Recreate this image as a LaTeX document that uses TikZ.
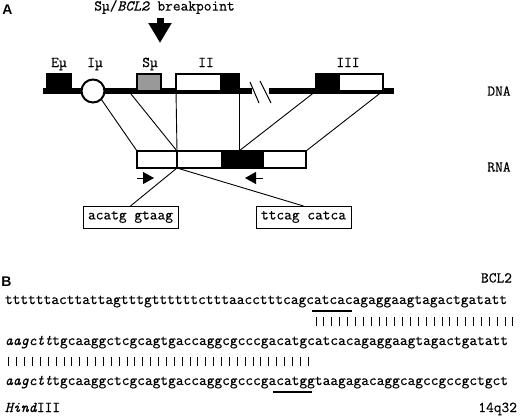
\documentclass[tikz,border=0pt]{standalone}
\usepackage{fontspec}
\setmonofont{Latin Modern Mono}[FakeBold=0.5]
\newfontfamily\panelfont{Liberation Sans}
\usetikzlibrary{positioning,arrows.meta}

\def\cw{7.875}

\begin{document}
\begin{tikzpicture}[
    x=1pt, y=-1pt,
    every node/.style={font=\ttfamily\fontsize{15}{17}\selectfont, inner sep=0pt, outer sep=0pt},
    panel/.style={font=\panelfont\bfseries\fontsize{14}{16}\selectfont},
    exon/.style={
        draw,
        line width=1.8pt,
        minimum height=17pt
    },
    rna/.style={
        draw,
        line width=1.8pt,
        minimum height=17pt
    },
    seqbox/.style={
        draw,
        line width=1pt,
        minimum width=95pt,
        minimum height=22pt
    },
    link/.style={line width=0.9pt},
    primer/.style={line width=1pt, -{Triangle[length=11pt,width=12pt]}},
    seq/.style={anchor=base west},
    tick/.style={line width=1pt}
]
    \useasboundingbox (0,0) rectangle (520,418);

    % Panel A
    \node[panel] (pa) at (7.5,10) {A};

    % Breakpoint label and arrow
    \node (bptext) at (164.5,7) {Sµ/\textit{BCL2} breakpoint};
    \coordinate (bptip) at (160,43);
    \draw[line width=7pt, -{Triangle[length=20pt,width=22pt]}]
        ([yshift=-4pt]bptext.south -| bptip) -- (bptip);

    % DNA line with break
    \draw[line width=5.5pt] (43,91) coordinate (dnaL) -- (252,91) coordinate (brkL);
    \draw[line width=5.5pt] (269,91) coordinate (brkR) -- (394,91) coordinate (dnaR);
    \draw[line width=1pt] (250,82) -- (259,103);
    \draw[line width=1pt] (260,81) -- (271,103);

    % Exons on DNA
    \node[exon, fill=black, minimum width=24pt] (emu) at (59,82.5) {};
    \node[circle, draw, line width=2pt, fill=white, minimum size=23pt] (imu) at (93,91) {};
    \node[exon, fill=black!40, minimum width=24pt] (smu) at (149,82.5) {};
    \node[exon, fill=white, minimum width=45pt] (iiw) at (198.5,82.5) {};
    \node[exon, fill=black, minimum width=18pt, right=0pt of iiw] (iib) {};
    \node[exon, fill=black, minimum width=23pt] (iiib) at (327.5,82.5) {};
    \node[exon, fill=white, minimum width=44pt, right=0pt of iiib] (iiiw) {};

    % Exon labels
    \node[anchor=base] (lemu) at (59,67) {Eµ};
    \node[anchor=base] (limu) at (95,67) {Iµ};
    \node[anchor=base] (lsmu) at (150,67) {Sµ};
    \node[anchor=base] (lii) at (206,67) {II};
    \node[anchor=base] (liii) at (348,67) {III};

    % RNA
    \node[rna, fill=white, minimum width=40pt] (r1) at (157,159.5) {};
    \node[rna, fill=white, minimum width=45pt, right=0pt of r1] (r2) {};
    \node[rna, fill=black, minimum width=17pt, right=0pt of r2] (r3) {};
    \node[rna, fill=black, minimum width=24pt, right=0pt of r3] (r4) {};
    \node[rna, fill=white, minimum width=43pt, right=0pt of r4] (r5) {};

    % DNA to RNA
    \draw[link] (imu.south east) -- (r1.north west);
    \draw[link] ([xshift=-6pt,yshift=-3pt]smu.south west) -- (r2.north west);
    \draw[link] (iiw.south west) -- (r2.north west);
    \draw[link] (iib.south east) -- (r4.north west);
    \draw[link] (iiib.south west) -- (r4.north west);
    \draw[link] (iiiw.south east) -- (r5.north east);

    % Primers
    \coordinate (pf) at (137,178);
    \coordinate (pfend) at (154,178);
    \coordinate (pr) at (263,178);
    \coordinate (prend) at (245,178);
    \draw[primer] (pf) -- (pfend);
    \draw[primer] (pr) -- (prend);

    % Junction sequences
    \node[seqbox] (junc5) at (130.5,217) {acatg gtaag};
    \node[seqbox] (junc3) at (303.5,217) {ttcag catca};
    \draw[link] (r1.south east) -- (junc5.north);
    \draw[link] (r1.south east) -- (junc3.north);

    \node (ldna) at (499,91) {DNA};
    \node (lrna) at (499,167) {RNA};

    % Panel B
    \node[panel] (pb) at (6.5,282) {B};
    \node[anchor=base east] (lbcl) at (512,282.5) {BCL2};

    \node[seq] (s1) at (5,304) {ttttttacttattagtttgttttttctttaacctttcagcatcacagaggaagtagactgatatt};
    \node[seq] (s2) at (5,345) {\textit{aagctt}tgcaaggctcgcagtgaccaggcgcccgacatgcatcacagaggaagtagactgatatt};
    \node[seq] (s3) at (5,385) {\textit{aagctt}tgcaaggctcgcagtgaccaggcgcccgacatggtaagagacaggcagccgccgctgct};

    % Underlined junctions
    \draw[line width=1.5pt] ({5+39*\cw},311) -- ({5+44*\cw},311);
    \draw[line width=1.5pt] ({5+34*\cw},392) -- ({5+39*\cw},392);

    % Identity ticks
    \foreach \i in {40,...,65}
        \draw[tick] ({5+(\i-0.5)*\cw},317) -- ++(0,9);
    \foreach \i in {1,...,39}
        \draw[tick] ({5+(\i-0.5)*\cw},357) -- ++(0,9);

    \node[seq] (lhind) at (5,412) {\textit{Hind}III};
    \node[anchor=base east] (lchr) at (517,412) {14q32};

\end{tikzpicture}
\end{document}
